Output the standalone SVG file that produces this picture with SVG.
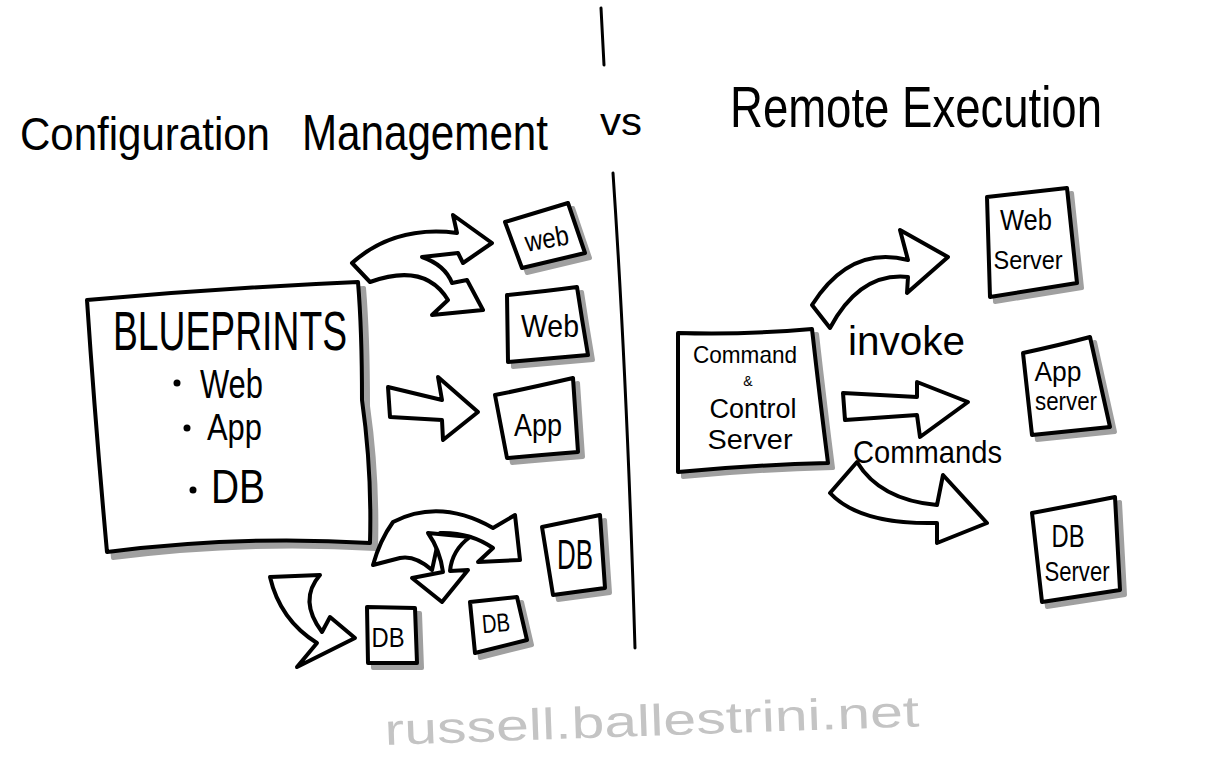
<svg xmlns="http://www.w3.org/2000/svg" width="1216" height="768" viewBox="0 0 1216 768">
<defs>
<style>
.box{fill:#fff;stroke:#000;stroke-width:4;stroke-linejoin:round;stroke-linecap:round}
.sh{fill:#a0a0a0;stroke:#a0a0a0;stroke-width:4;stroke-linejoin:round}
.arrow{fill:#fff;stroke:#000;stroke-width:4;stroke-linejoin:round;stroke-linecap:round}
.line{fill:none;stroke:#000;stroke-width:3;stroke-linecap:round}
.t{font-family:"Liberation Sans Narrow","Liberation Sans",sans-serif;fill:#000}
.m{text-anchor:middle}
</style>
</defs>
<rect width="1216" height="768" fill="#fff"/>

<g id="titles">
<text class="t" x="20" y="150" font-size="46" textLength="250" lengthAdjust="spacingAndGlyphs">Configuration</text>
<text class="t" x="302" y="150" font-size="50" textLength="246" lengthAdjust="spacingAndGlyphs">Management</text>
<text class="t" x="600" y="135" font-size="38" textLength="42" lengthAdjust="spacingAndGlyphs">vs</text>
<text class="t" x="730" y="127" font-size="58" textLength="372" lengthAdjust="spacingAndGlyphs">Remote Execution</text>
</g>

<g id="divider">
<path class="line" d="M601,8 L604,65"/>
<path class="line" d="M613,173 Q627,380 635,648"/>
</g>

<g id="blueprints">
<path class="sh" transform="translate(6,6)" d="M87,300 Q220,288 358,282 Q362,330 362,400 Q372,470 370,543 Q240,535 107,552 Q95,420 87,300 Z"/>
<path class="box" d="M87,300 Q220,288 358,282 Q362,330 362,400 Q372,470 370,543 Q240,535 107,552 Q95,420 87,300 Z"/>
<text class="t" x="113" y="350" font-size="56" textLength="234" lengthAdjust="spacingAndGlyphs">BLUEPRINTS</text>
<circle cx="177" cy="383" r="3.5"/>
<text class="t" x="200" y="398" font-size="40" textLength="63" lengthAdjust="spacingAndGlyphs">Web</text>
<circle cx="187" cy="428" r="3.5"/>
<text class="t" x="207" y="440" font-size="36" textLength="55" lengthAdjust="spacingAndGlyphs">App</text>
<circle cx="193" cy="490" r="3.5"/>
<text class="t" x="211" y="503" font-size="48" textLength="54" lengthAdjust="spacingAndGlyphs">DB</text>
</g>

<g id="web1">
<path class="sh" transform="translate(5,5)" d="M505,222 Q535,213 568,203 L585,253 L522,268 Z"/>
<path class="box" d="M505,222 Q535,213 568,203 L585,253 L522,268 Z"/>
<text class="t m" x="547" y="248" font-size="28" textLength="44" lengthAdjust="spacingAndGlyphs" transform="rotate(-10 547 240)">web</text>
</g>
<g id="web2">
<path class="sh" transform="translate(5,5)" d="M507,295 Q540,292 577,287 Q582,320 588,355 L508,362 Z"/>
<path class="box" d="M507,295 Q540,292 577,287 Q582,320 588,355 L508,362 Z"/>
<text class="t m" x="550" y="337" font-size="32" textLength="58" lengthAdjust="spacingAndGlyphs">Web</text>
</g>
<g id="app">
<path class="sh" transform="translate(5,5)" d="M495,395 Q530,388 573,378 L578,452 Q540,455 507,458 Z"/>
<path class="box" d="M495,395 Q530,388 573,378 L578,452 Q540,455 507,458 Z"/>
<text class="t m" x="538" y="436" font-size="32" textLength="48" lengthAdjust="spacingAndGlyphs">App</text>
</g>
<g id="db1">
<path class="sh" transform="translate(5,5)" d="M542,527 L600,515 L605,588 L553,595 Z"/>
<path class="box" d="M542,527 L600,515 L605,588 L553,595 Z"/>
<text class="t m" x="575" y="569" font-size="42" textLength="36" lengthAdjust="spacingAndGlyphs">DB</text>
</g>
<g id="db2">
<path class="sh" transform="translate(5,5)" d="M367,607 L415,608 L417,663 L368,663 Z"/>
<path class="box" d="M367,607 L415,608 L417,663 L368,663 Z"/>
<text class="t m" x="388" y="647" font-size="28" textLength="33" lengthAdjust="spacingAndGlyphs">DB</text>
</g>
<g id="db3">
<path class="sh" transform="translate(5,5)" d="M470,602 L517,597 L527,640 L475,653 Z"/>
<path class="box" d="M470,602 L517,597 L527,640 L475,653 Z"/>
<text class="t m" x="496" y="632" font-size="26" textLength="28" lengthAdjust="spacingAndGlyphs" transform="rotate(-5 496 625)">DB</text>
</g>

<g id="cnc">
<path class="sh" transform="translate(5,5)" d="M678,333 Q745,335 812,329 Q820,400 828,463 Q750,465 678,472 Z"/>
<path class="box" d="M678,333 Q745,335 812,329 Q820,400 828,463 Q750,465 678,472 Z"/>
<text class="t m" x="745" y="363" font-size="24" textLength="104" lengthAdjust="spacingAndGlyphs">Command</text>
<text class="t m" x="748" y="386" font-size="14">&amp;</text>
<text class="t m" x="753" y="418" font-size="27" textLength="87" lengthAdjust="spacingAndGlyphs">Control</text>
<text class="t m" x="750" y="449" font-size="28" textLength="85" lengthAdjust="spacingAndGlyphs">Server</text>
</g>
<g id="webserver">
<path class="sh" transform="translate(5,5)" d="M987,197 L1067,188 L1077,283 L990,297 Z"/>
<path class="box" d="M987,197 L1067,188 L1077,283 L990,297 Z"/>
<text class="t m" x="1026" y="230" font-size="30" textLength="52" lengthAdjust="spacingAndGlyphs">Web</text>
<text class="t m" x="1028" y="269" font-size="26" textLength="69" lengthAdjust="spacingAndGlyphs">Server</text>
</g>
<g id="appserver">
<path class="sh" transform="translate(5,5)" d="M1023,353 Q1060,345 1090,337 L1110,427 L1032,435 Z"/>
<path class="box" d="M1023,353 Q1060,345 1090,337 L1110,427 L1032,435 Z"/>
<text class="t m" x="1058" y="381" font-size="28" textLength="47" lengthAdjust="spacingAndGlyphs">App</text>
<text class="t m" x="1066" y="410" font-size="26" textLength="62" lengthAdjust="spacingAndGlyphs">server</text>
</g>
<g id="dbserver">
<path class="sh" transform="translate(5,5)" d="M1032,513 Q1075,505 1115,497 L1120,590 L1042,602 Z"/>
<path class="box" d="M1032,513 Q1075,505 1115,497 L1120,590 L1042,602 Z"/>
<text class="t m" x="1068" y="547" font-size="32" textLength="33" lengthAdjust="spacingAndGlyphs">DB</text>
<text class="t m" x="1077" y="581" font-size="28" textLength="65" lengthAdjust="spacingAndGlyphs">Server</text>
</g>

<g id="connectors">
<path class="arrow" d="M352,263 Q395,225 457,233 L453,215 L492,243 L463,263 L458,253 L422,257 Q445,265 452,283 L467,280 L483,310 L432,315 L448,300 Q425,262 370,282 Z"/>
<path class="arrow" d="M388,387 L442,400 L438,377 L478,412 L443,440 L442,420 L390,417 Z"/>
<path class="arrow" d="M373,565 Q380,540 393,522 Q440,498 493,528 L515,515 L520,560 L478,562 L493,548 Q470,532 440,533 L432,570 Q415,555 400,558 Z"/>
<path class="arrow" d="M428,533 L470,537 Q452,550 450,571 L468,570 L442,602 L412,578 L443,572 Q440,550 428,533 Z"/>
<path class="arrow" d="M270,577 L320,575 Q298,600 322,632 L330,617 L355,638 L297,667 L317,643 Q280,620 270,577 Z"/>
<path class="arrow" d="M812,305 Q850,245 908,260 L900,230 L948,257 L907,293 L908,277 Q860,272 830,328 Z"/>
<path class="arrow" d="M843,393 L917,397 L917,382 L968,402 L920,437 L917,415 L845,420 Z"/>
<path class="arrow" d="M857,462 Q880,500 937,505 L943,475 L987,523 L937,543 L937,523 Q860,525 830,493 Z"/>
</g>

<g id="labels">
<text class="t" x="848" y="355" font-size="40" textLength="117" lengthAdjust="spacingAndGlyphs">invoke</text>
<text class="t" x="853" y="463" font-size="32" textLength="149" lengthAdjust="spacingAndGlyphs">Commands</text>
</g>

<g id="footer">
<text class="t" x="385" y="745" font-size="44" style="fill:#c4c4c4" textLength="535" lengthAdjust="spacingAndGlyphs" transform="rotate(-2 385 745)">russell.ballestrini.net</text>
</g>
</svg>
